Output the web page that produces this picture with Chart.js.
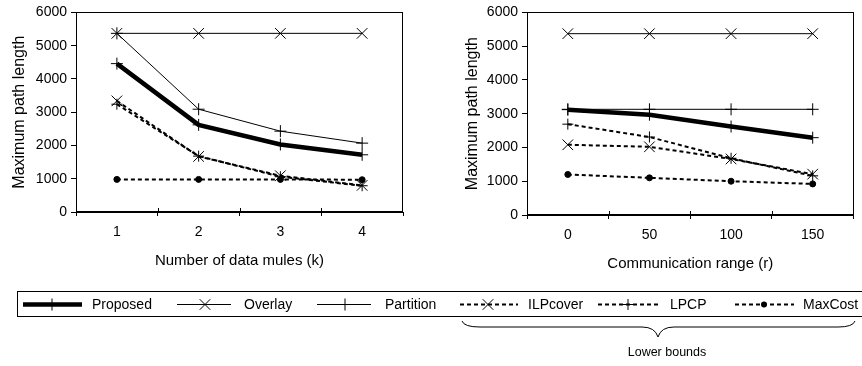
<!DOCTYPE html>
<html>
<head>
<meta charset="utf-8">
<script src="https://cdn.jsdelivr.net/npm/chart.js@4.4.1/dist/chart.umd.min.js"></script>
<style>
  body { margin: 0; background: #fff; width: 862px; height: 366px; overflow: hidden; position: relative;
         font-family: "Liberation Sans", Arial, sans-serif; color: #000; }
  canvas { position: absolute; top: 0; }
  #legendBox { position: absolute; left: 17px; top: 291px; width: 850px; height: 26px;
               border: 1px solid #000; box-sizing: border-box; }
  .lbl { position: absolute; font-size: 14px; line-height: 16px; top: 296px; white-space: nowrap; }
  svg { position: absolute; left: 0; top: 0; }
  #lower { position: absolute; top: 345px; left: 627px; width: 80px; text-align: center; font-size: 12.5px; }
</style>
</head>
<body>
<canvas id="left" width="430" height="270" style="left:0"></canvas>
<canvas id="right" width="432" height="273" style="left:430px"></canvas>
<div id="legendBox"></div>
<svg id="legendMarks" width="862" height="366"></svg>
<div id="lower">Lower bounds</div>

<script>
// x categories
const kLabels = ['1', '2', '3', '4'];
const rLabels = ['0', '50', '100', '150'];

// left: vs number of data mules (k)
const proposedK  = [4460, 2620, 2030, 1720];
const overlayK   = [5370, 5370, 5370, 5370];
const partitionK = [5370, 3090, 2430, 2070];
const ilpK       = [3340, 1670, 1090, 800];
const lpcpK      = [3240, 1680, 1060, 790];
const maxCostK   = [980, 980, 980, 970];

// right: vs communication range (r)
const proposedR  = [3120, 2970, 2620, 2290];
const overlayR   = [5370, 5370, 5370, 5370];
const partitionR = [3130, 3130, 3130, 3130];
const ilpR       = [2080, 2020, 1660, 1210];
const lpcpR      = [2690, 2310, 1680, 1160];
const maxCostR   = [1200, 1100, 1000, 920];

const yTicks = [0, 1000, 2000, 3000, 4000, 5000, 6000];

const FONT = '"Liberation Sans", Arial, sans-serif';
const DASH = [4, 3];

// style for each series, shared by both charts and the legend
const series = [
  { label: 'Proposed',  width: 4.5, dash: [],   point: 'cross',    r: 6 },
  { label: 'Overlay',   width: 1,   dash: [],   point: 'crossRot', r: 7.5 },
  { label: 'Partition', width: 1,   dash: [],   point: 'cross',    r: 6 },
  { label: 'ILPcover',  width: 2,   dash: DASH, point: 'crossRot', r: 7.5 },
  { label: 'LPCP',      width: 2,   dash: DASH, point: 'cross',    r: 5.5 },
  { label: 'MaxCost',   width: 2,   dash: DASH, point: 'circle',   r: 3 }
];

function datasets(values) {
  return series.map((s, i) => ({
    label: s.label,
    data: values[i],
    borderColor: '#000',
    backgroundColor: '#000',
    borderWidth: s.width,
    borderDash: s.dash,
    pointStyle: s.point,
    pointRadius: s.r,
    pointHoverRadius: s.r,
    pointBorderWidth: 1,
    pointBorderColor: '#000',
    pointBackgroundColor: '#000',
    tension: 0
  }));
}

// frame round the plot and the upper half of the x tick marks
const frame = {
  id: 'frame',
  afterDraw(chart) {
    const { ctx, chartArea: a, scales: { x } } = chart;
    ctx.save();
    ctx.strokeStyle = '#000';
    ctx.lineWidth = 1;
    ctx.setLineDash([]);
    ctx.strokeRect(Math.round(a.left) + 0.5, Math.round(a.top) + 0.5,
                   Math.round(a.right - a.left) - 1, Math.round(a.bottom - a.top) - 1);
    ctx.beginPath();
    for (let i = 1; i < x.ticks.length; i++) {
      const px = Math.round((x.getPixelForTick(i - 1) + x.getPixelForTick(i)) / 2) + 0.5;
      ctx.moveTo(px, a.bottom);
      ctx.lineTo(px, a.bottom - 4);
    }
    ctx.stroke();
    ctx.restore();
  }
};

function makeChart(id, labels, values, xTitle, pad, yWidth) {
  return new Chart(document.getElementById(id), {
    type: 'line',
    data: { labels: labels, datasets: datasets(values) },
    options: {
      responsive: false,
      animation: false,
      events: [],
      layout: { padding: pad },
      plugins: { legend: { display: false }, tooltip: { enabled: false } },
      scales: {
        x: {
          type: 'category',
          offset: true,
          grid: { offset: true, drawOnChartArea: false, tickLength: 4, color: '#000' },
          border: { color: '#000' },
          ticks: { color: '#000', padding: 8, font: { family: FONT, size: 14 }, maxRotation: 0 },
          title: { display: true, text: xTitle, color: '#000', padding: { top: 0, bottom: 0 },
                   font: { family: FONT, size: 15 } },
          afterFit: s => { s.height = 58; }
        },
        y: {
          min: 0,
          max: 6000,
          afterBuildTicks: s => { s.ticks = yTicks.map(v => ({ value: v })); },
          grid: { drawOnChartArea: false, tickLength: 5, color: '#000' },
          border: { color: '#000' },
          ticks: { color: '#000', padding: 4, font: { family: FONT, size: 14 },
                   callback: v => String(v) },
          title: { display: true, text: 'Maximum path length', color: '#000',
                   padding: { top: 10, bottom: 0 }, font: { family: FONT, size: 16 } },
          afterFit: s => { s.width = yWidth; }
        }
      }
    },
    plugins: [frame]
  });
}

makeChart('left', kLabels, [proposedK, overlayK, partitionK, ilpK, lpcpK, maxCostK],
          'Number of data mules (k)', { top: 10, right: 27, left: 0, bottom: 0 }, 76);
makeChart('right', rLabels, [proposedR, overlayR, partitionR, ilpR, lpcpR, maxCostR],
          'Communication range (r)', { top: 10, right: 7, left: 23, bottom: 0 }, 74);

// legend: line sample from x0 to x1, marker at mx, text at tx
const legendPos = [
  { x0: 23,  x1: 82,  mx: 52,  tx: 92 },
  { x0: 177, x1: 231, mx: 205, tx: 244 },
  { x0: 317, x1: 371, mx: 345, tx: 385 },
  { x0: 460, x1: 518, mx: 488, tx: 528 },
  { x0: 598, x1: 658, mx: 628, tx: 670 },
  { x0: 735, x1: 794, mx: 764, tx: 803 }
];
const LY = 304.5;
let svg = '';
series.forEach((s, i) => {
  const p = legendPos[i];
  const dash = s.dash.length ? ` stroke-dasharray="${s.dash.join(',')}"` : '';
  svg += `<line x1="${p.x0}" y1="${LY}" x2="${p.x1}" y2="${LY}" stroke="#000" stroke-width="${s.width}"${dash}/>`;
  if (s.point === 'cross') {
    svg += `<path d="M${p.mx - s.r},${LY}H${p.mx + s.r}M${p.mx},${LY - s.r}V${LY + s.r}" stroke="#000" stroke-width="1"/>`;
  } else if (s.point === 'crossRot') {
    const d = s.r * Math.SQRT1_2;
    svg += `<path d="M${p.mx - d},${LY - d}L${p.mx + d},${LY + d}M${p.mx + d},${LY - d}L${p.mx - d},${LY + d}" stroke="#000" stroke-width="1"/>`;
  } else {
    svg += `<circle cx="${p.mx}" cy="${LY}" r="${s.r}" fill="#000"/>`;
  }
  const t = document.createElement('div');
  t.className = 'lbl';
  t.style.left = p.tx + 'px';
  t.textContent = s.label;
  document.body.appendChild(t);
});
// brace under the lower bounds
svg += '<path d="M462,321 Q464,327 480,327 L642,327 Q655,327 658,337 Q661,327 674,327 L838,327 Q853,327 855,321" fill="none" stroke="#000" stroke-width="1"/>';
document.getElementById('legendMarks').innerHTML = svg;
</script>
</body>
</html>
